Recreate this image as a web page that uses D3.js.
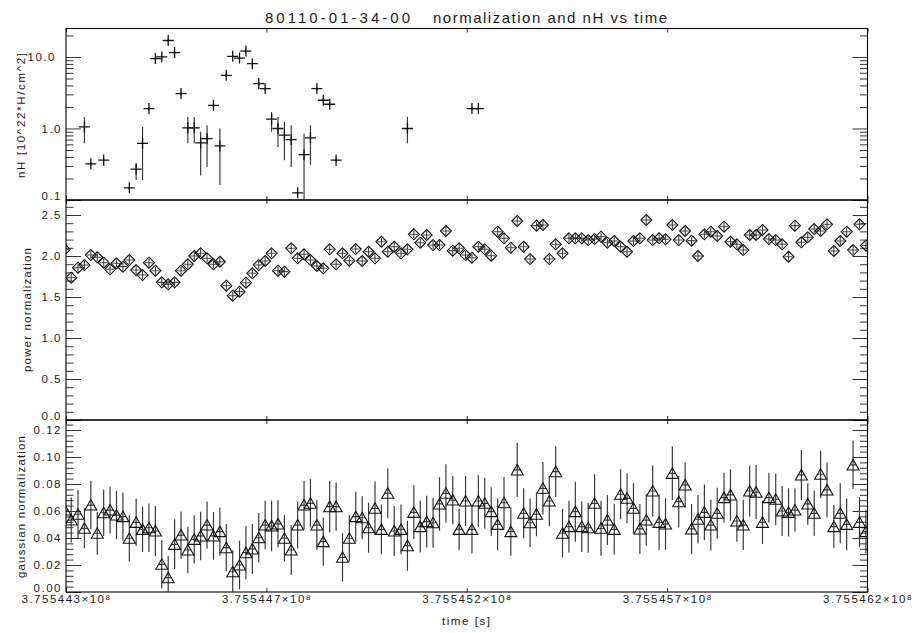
<!DOCTYPE html>
<html>
<head>
<meta charset="utf-8">
<script src="https://cdn.jsdelivr.net/npm/d3@7/dist/d3.min.js"></script>
<style>
html,body{margin:0;padding:0;background:#fff;}
svg{display:block;}
text{font-family:"Liberation Sans",Arial,sans-serif;font-size:11.5px;fill:#1a1a1a;}
.title{font-size:15px;}
.ticklab text{letter-spacing:1.5px;}
</style>
</head>
<body>
<svg id="chart" width="917" height="633"></svg>
<script>
// Observation reference time (s); every time below is an offset from it
const T0 = 375544250;
const timeTicks = [0, 500, 1000, 1500, 2000];
const timeTickLabels = ["3.755443", "3.755447", "3.755452", "3.755457", "3.755462"];

const nhTicks = [0.1, 1, 10];
const powerTicks = [0, 0.5, 1, 1.5, 2, 2.5];
const gaussTicks = [0, 0.02, 0.04, 0.06, 0.08, 0.10, 0.12];

// 16 s spectral bins
const binTimes = [
  -3,13,30,46,62,78,94,110,126,142,
  158,175,191,207,223,239,255,271,287,304,
  320,336,352,368,384,400,416,433,449,465,
  481,497,513,529,545,562,578,594,610,626,
  642,658,674,690,707,723,739,755,771,787,
  803,819,836,852,868,884,900,916,932,948,
  965,981,997,1013,1029,1045,1061,1077,1093,1110,
  1126,1142,1158,1174,1190,1206,1222,1239,1255,1271,
  1287,1303,1319,1335,1351,1368,1384,1400,1416,1432,
  1448,1464,1480,1496,1513,1529,1545,1561,1577,1593,
  1609,1625,1642,1658,1674,1690,1706,1722,1738,1754,
  1771,1787,1803,1819,1835,1851,1867,1883,1899,1916,
  1932,1948,1964,1980,1996
];

const powerNorm = [
  2.08,1.735,1.857,1.89,2.012,1.984,1.918,1.838,1.911,1.87,
  1.951,1.829,1.768,1.918,1.821,1.679,1.655,1.679,1.821,1.899,
  2.0,2.033,1.972,1.899,1.93,1.638,1.516,1.565,1.674,1.789,
  1.89,1.939,2.033,1.821,1.809,2.094,1.972,2.021,1.951,1.878,
  1.85,2.082,1.899,2.033,1.943,2.085,1.939,2.052,1.972,2.174,
  2.052,2.113,2.033,2.082,2.265,2.162,2.256,2.134,2.134,2.305,
  2.065,2.094,2.012,1.979,2.113,2.082,2.004,2.296,2.216,2.101,
  2.427,2.113,1.963,2.37,2.378,1.963,2.143,2.033,2.216,2.216,
  2.216,2.195,2.207,2.235,2.162,2.183,2.113,2.052,2.183,2.216,
  2.439,2.195,2.216,2.204,2.378,2.195,2.305,2.187,2.0,2.265,
  2.296,2.244,2.357,2.174,2.143,2.073,2.256,2.256,2.317,2.207,
  2.195,2.143,1.991,2.37,2.167,2.228,2.329,2.305,2.387,2.061,
  2.183,2.296,2.073,2.387,2.128
];

const gaussNorm = [
  0.0607,0.0533,0.0576,0.0472,0.0644,0.0435,0.0587,0.0607,0.0570,0.0558,
  0.0398,0.0516,0.0464,0.0476,0.0452,0.0205,0.0106,0.0353,0.0422,0.0311,
  0.0390,0.0415,0.0496,0.0415,0.0447,0.0328,0.0150,0.0200,0.0291,0.0319,
  0.0402,0.0496,0.0489,0.0504,0.0398,0.0311,0.0496,0.0644,0.0657,0.0496,
  0.0373,0.0632,0.0632,0.0257,0.0398,0.0558,0.0550,0.0476,0.0620,0.0464,
  0.0731,0.0452,0.0464,0.0343,0.0590,0.0484,0.0521,0.0513,0.0652,0.0731,
  0.0681,0.0464,0.0674,0.0464,0.0674,0.0657,0.0595,0.0501,0.0661,0.0447,
  0.0904,0.0583,0.0513,0.0576,0.0768,0.0674,0.0891,0.0435,0.0484,0.0595,
  0.0484,0.0476,0.0657,0.0472,0.0533,0.0464,0.0724,0.0694,0.0620,0.0467,
  0.0533,0.0748,0.0516,0.0504,0.0879,0.0669,0.0793,0.0467,0.0539,0.0590,
  0.0496,0.0583,0.0699,0.0719,0.0526,0.0496,0.0748,0.0739,0.0516,0.0699,
  0.0687,0.0600,0.0590,0.0607,0.0867,0.0652,0.0583,0.0872,0.0756,0.0484,
  0.0583,0.0501,0.0941,0.0516,0.0447
];

const gaussErr = [
  0.011,0.0167,0.018,0.0148,0.0179,0.016,0.0173,0.0173,0.0179,0.0179,
  0.0173,0.0175,0.0167,0.0179,0.0185,0.0179,0.016,0.0185,0.0175,0.0173,
  0.0179,0.018,0.0175,0.0177,0.0179,0.0175,0.016,0.0179,0.0198,0.0185,
  0.0183,0.018,0.0188,0.0175,0.0173,0.0185,0.0173,0.0179,0.0179,0.0185,
  0.0179,0.0191,0.0179,0.0179,0.0173,0.0185,0.016,0.0185,0.0198,0.0185,
  0.0185,0.0185,0.0185,0.0185,0.0198,0.0191,0.0191,0.0185,0.0198,0.0216,
  0.0179,0.0154,0.0185,0.0179,0.0191,0.0189,0.018,0.0191,0.0191,0.0179,
  0.0201,0.0185,0.0179,0.0163,0.0194,0.0185,0.0188,0.0179,0.0191,0.0222,
  0.0188,0.0185,0.0216,0.0204,0.0185,0.0189,0.0185,0.0185,0.0185,0.0185,
  0.0191,0.0189,0.0204,0.0191,0.0198,0.0191,0.0167,0.0185,0.0179,0.0207,
  0.0188,0.0189,0.0185,0.0191,0.0154,0.0185,0.0188,0.0201,0.016,0.0185,
  0.0191,0.0185,0.0179,0.016,0.0185,0.0154,0.0167,0.0175,0.0204,0.016,
  0.0222,0.0191,0.0179,0.0185,0.016
];

// Column density: only bins where the absorption fit converged
const nhTimes = [
  46,62,94,158,175,191,207,223,239,255,
  271,287,304,320,336,352,368,384,400,416,
  433,449,465,481,497,513,529,545,562,578,
  594,610,626,642,658,674,852,1013,1029
];
const nhValue = [
  1.05,0.32,0.36,0.148,0.27,0.62,1.90,9.5,10.0,17.0,
  11.5,3.08,1.02,1.02,0.63,0.72,2.11,0.57,5.54,10.2,
  9.66,12.1,8.06,4.24,3.61,1.35,1.0,0.81,0.70,0.126,
  0.43,0.74,3.61,2.48,2.18,0.36,1.0,1.90,1.90
];
const nhLow = [
  0.62,0.30,0.34,0.14,0.19,0.19,1.80,9.0,9.5,16.0,
  10.9,2.9,0.62,0.62,0.22,0.29,2.0,0.162,5.25,9.7,
  9.2,11.5,7.6,4.0,3.4,0.90,0.55,0.36,0.29,0.12,
  0.05,0.31,3.4,2.35,2.05,0.34,0.62,1.8,1.8
];
const nhHigh = [
  1.45,0.34,0.38,0.156,0.325,1.05,2.0,10.0,10.5,18.0,
  12.1,3.25,1.45,1.45,0.90,1.11,2.22,1.0,5.85,10.7,
  10.2,12.7,8.5,4.45,3.8,1.70,1.45,1.24,1.11,0.133,
  0.85,1.11,3.8,2.6,2.3,0.38,1.45,2.0,2.0
];

const svg = d3.select("#chart");
const X0 = 66, X1 = 867.5;
const panelTop = {y0: 28.5, y1: 200};
const panelMid = {y0: 200, y1: 420};
const panelBot = {y0: 420, y1: 592};

const x = d3.scaleLinear().domain([0, 2000]).range([X0, X1]);
const yNh = d3.scaleLog().domain([0.1, 25]).range([panelTop.y1, panelTop.y0]);
const yPow = d3.scaleLinear().domain([0, 2.683]).range([panelMid.y1, panelMid.y0]);
const yGau = d3.scaleLinear().domain([0, 0.1274]).range([panelBot.y1, panelBot.y0]);

const nhMinor = yNh.ticks().filter(v => !nhTicks.some(t => Math.abs(t - v) < 1e-9));
const powMinor = d3.range(0, 27).map(i => +(i * 0.1).toFixed(1)).filter(v => Math.abs(v * 2 - Math.round(v * 2)) > 1e-6);
const gauMinor = d3.range(0, 32).map(i => +(i * 0.004).toFixed(3)).filter(v => Math.abs(v * 50 - Math.round(v * 50)) > 1e-6);

const defs = svg.append("defs");
function clipFor(id, p) {
  defs.append("clipPath").attr("id", id)
    .append("rect").attr("x", X0).attr("y", p.y0).attr("width", X1 - X0).attr("height", p.y1 - p.y0);
  return `url(#${id})`;
}

function axesFor(p, y, majors, minors, fmt, withTimeLabels) {
  const g = svg.append("g").attr("color", "#333");
  // left: long major ticks with labels, short minor ticks
  const lab = g.append("g").attr("class", "ticklab").attr("transform", `translate(${X0},0)`)
    .call(d3.axisLeft(y).tickValues(majors).tickSize(-15).tickPadding(4).tickFormat(fmt))
    .call(a => a.select(".domain").remove())
    .call(a => a.attr("font-size", null).attr("font-family", null));
  // the label at the bottom edge sits just above the frame line
  lab.selectAll(".tick text").filter(d => d === majors[0]).attr("y", -4);
  g.append("g").attr("transform", `translate(${X0},0)`)
    .call(d3.axisLeft(y).tickValues(minors).tickSize(-7.5).tickFormat(""))
    .call(a => a.select(".domain").remove());
  // right: mirrored ticks, no labels
  g.append("g").attr("transform", `translate(${X1},0)`)
    .call(d3.axisRight(y).tickValues(majors).tickSize(-15).tickFormat(""))
    .call(a => a.select(".domain").remove());
  g.append("g").attr("transform", `translate(${X1},0)`)
    .call(d3.axisRight(y).tickValues(minors).tickSize(-7.5).tickFormat(""))
    .call(a => a.select(".domain").remove());
  // time ticks on top and bottom edges
  g.append("g").attr("transform", `translate(0,${p.y0})`)
    .call(d3.axisTop(x).tickValues(timeTicks).tickSize(-4).tickFormat(""))
    .call(a => a.select(".domain").remove());
  const bx = g.append("g").attr("class", "ticklab").attr("transform", `translate(0,${p.y1})`)
    .call(d3.axisBottom(x).tickValues(timeTicks).tickSize(-4).tickPadding(3)
      .tickFormat(withTimeLabels ? (d, i) => timeTickLabels[i] : ""))
    .call(a => a.select(".domain").remove())
    .call(a => a.attr("font-size", null).attr("font-family", null));
  if (withTimeLabels) {
    bx.selectAll(".tick text").each(function(d, i) {
      const t = d3.select(this).text(null);
      t.append("tspan").text(timeTickLabels[i] + "\u00d710");
      t.append("tspan").attr("dy", "-0.42em").attr("font-size", "8px").text("8");
    });
  }
  // frame
  svg.append("rect").attr("x", X0).attr("y", p.y0).attr("width", X1 - X0).attr("height", p.y1 - p.y0)
    .attr("fill", "none").attr("stroke", "#000").attr("stroke-width", 1.1);
  return g;
}

const fmt1 = d3.format(".1f");
const fmt2 = d3.format(".2f");

// ---- nH panel ----
const topAxes = axesFor(panelTop, yNh, nhTicks, nhMinor, fmt1, false);
topAxes.selectAll(".ticklab .tick text").filter(d => d >= 10).attr("dx", -6);
const gNh = svg.append("g").attr("clip-path", clipFor("clipTop", panelTop));
const nhRows = nhTimes.map((t, i) => ({t, v: nhValue[i], lo: nhLow[i], hi: nhHigh[i]}));
gNh.selectAll("path.err").data(nhRows).join("path").attr("class", "err")
  .attr("d", d => `M${x(d.t)},${yNh(Math.max(d.lo, 0.05))}V${yNh(d.hi)}`)
  .attr("stroke", "#3a3a3a").attr("stroke-width", 1.2).attr("fill", "none");
gNh.selectAll("path.sym").data(nhRows).join("path").attr("class", "sym")
  .attr("d", d => { const cx = x(d.t), cy = yNh(d.v);
    return `M${cx - 5.5},${cy}H${cx + 5.5}M${cx},${cy - 5.5}V${cy + 5.5}`; })
  .attr("stroke", "#111").attr("stroke-width", 1.3).attr("fill", "none");

// ---- power normalization panel ----
axesFor(panelMid, yPow, powerTicks, powMinor, fmt1, false);
const gPow = svg.append("g").attr("clip-path", clipFor("clipMid", panelMid));
const powRows = binTimes.map((t, i) => ({t, v: powerNorm[i]}));
gPow.selectAll("path.cross").data(powRows).join("path").attr("class", "cross")
  .attr("d", d => { const cx = x(d.t), cy = yPow(d.v);
    return `M${cx - 4},${cy}H${cx + 4}M${cx},${cy - 4}V${cy + 4}`; })
  .attr("stroke", "#444").attr("stroke-width", 1.1).attr("fill", "none");
gPow.selectAll("path.dia").data(powRows).join("path").attr("class", "dia")
  .attr("d", d => { const cx = x(d.t), cy = yPow(d.v), r = 5.5;
    return `M${cx},${cy - r}L${cx + r},${cy}L${cx},${cy + r}L${cx - r},${cy}Z`; })
  .attr("stroke", "#111").attr("stroke-width", 1.1).attr("fill", "none");

// ---- gaussian normalization panel ----
axesFor(panelBot, yGau, gaussTicks, gauMinor, fmt2, true);
const gGau = svg.append("g").attr("clip-path", clipFor("clipBot", panelBot));
const gauRows = binTimes.map((t, i) => ({t, v: gaussNorm[i], e: gaussErr[i]}));
gGau.selectAll("path.err").data(gauRows).join("path").attr("class", "err")
  .attr("d", d => { const cx = x(d.t);
    return `M${cx},${yGau(d.v - d.e)}V${yGau(d.v + d.e)}M${cx - 3.2},${yGau(d.v)}H${cx + 3.2}`; })
  .attr("stroke", "#3a3a3a").attr("stroke-width", 1.2).attr("fill", "none");
gGau.selectAll("path.tri").data(gauRows).join("path").attr("class", "tri")
  .attr("d", d => { const cx = x(d.t), cy = yGau(d.v);
    return `M${cx - 6},${cy + 5}L${cx},${cy - 5.5}L${cx + 6},${cy + 5}Z`; })
  .attr("stroke", "#111").attr("stroke-width", 1.1).attr("fill", "none");

// ---- titles ----
svg.append("text").attr("class", "title").attr("x", 265).attr("y", 22.5)
  .attr("textLength", 145).attr("lengthAdjust", "spacing").text("80110-01-34-00");
svg.append("text").attr("class", "title").attr("x", 433).attr("y", 22.5)
  .attr("textLength", 234).attr("lengthAdjust", "spacing").text("normalization and nH vs time");

function yTitle(txt, bx, cy, len) {
  svg.append("text").attr("transform", `translate(${bx},${cy}) rotate(-90)`)
    .attr("text-anchor", "middle").attr("textLength", len).attr("lengthAdjust", "spacing").text(txt);
}
yTitle("nH [10^22*H/cm^2]", 25, 115.5, 125);
yTitle("power normalization", 31, 310, 124);
yTitle("gaussian normalization", 25, 507, 142);

svg.append("text").attr("x", 466).attr("y", 625).attr("text-anchor", "middle")
  .attr("textLength", 48).attr("lengthAdjust", "spacing").text("time [s]");
</script>
</body>
</html>
